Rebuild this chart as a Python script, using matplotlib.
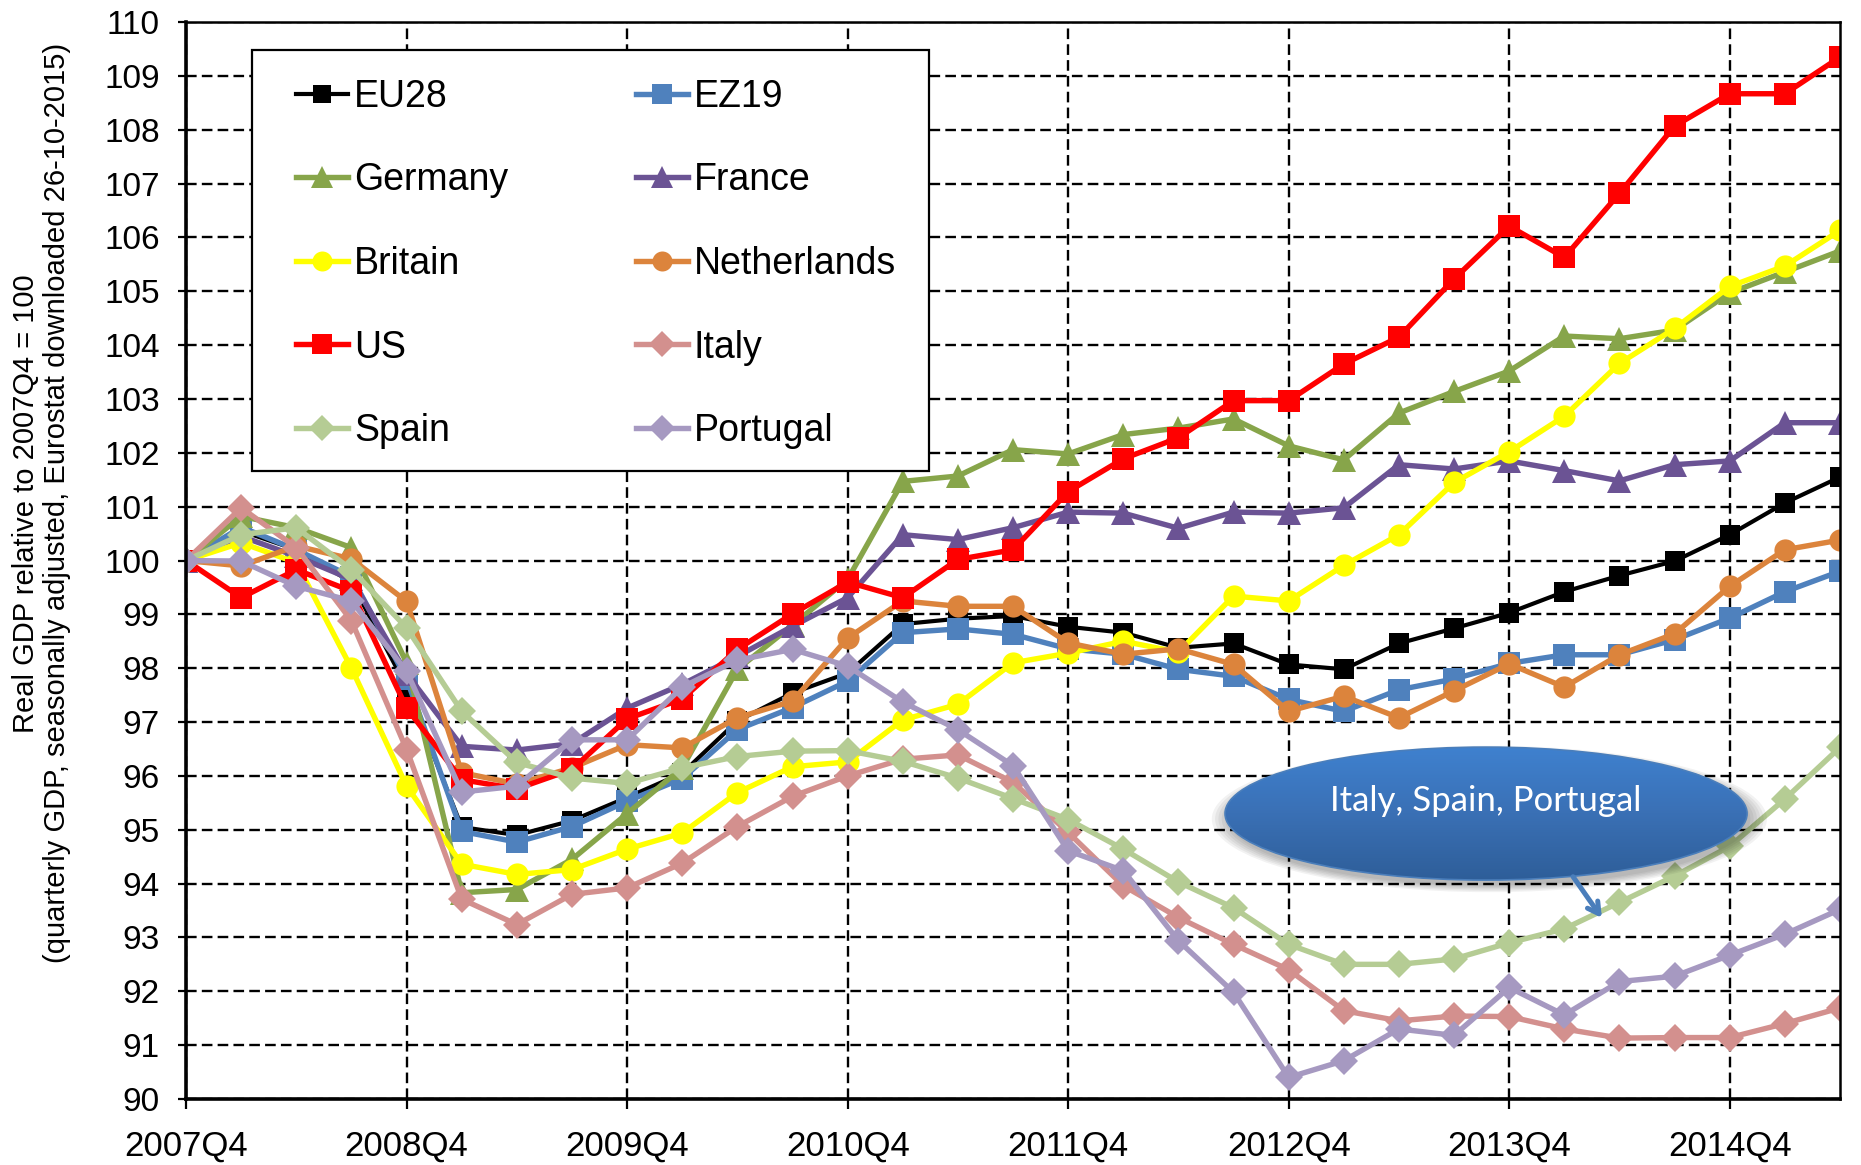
import numpy as np
import matplotlib
matplotlib.use("Agg")
import matplotlib.pyplot as plt
from matplotlib.patches import Ellipse, Rectangle
from matplotlib.colors import LinearSegmentedColormap

quarters = ["2007Q4", "2008Q1", "2008Q2", "2008Q3", "2008Q4", "2009Q1", "2009Q2", "2009Q3",
            "2009Q4", "2010Q1", "2010Q2", "2010Q3", "2010Q4", "2011Q1", "2011Q2", "2011Q3",
            "2011Q4", "2012Q1", "2012Q2", "2012Q3", "2012Q4", "2013Q1", "2013Q2", "2013Q3",
            "2013Q4", "2014Q1", "2014Q2", "2014Q3", "2014Q4", "2015Q1", "2015Q2"]

eu28 = [100, 100.55, 100.2, 99.6, 97.65, 95.05, 94.9, 95.17, 95.6, 96.05, 97.02, 97.54, 97.91,
        98.82, 98.92, 98.97, 98.77, 98.66, 98.38, 98.46, 98.07, 97.98, 98.46, 98.74, 99.03,
        99.42, 99.72, 99.99, 100.48, 101.07, 101.55]
ez19 = [100, 100.62, 100.2, 99.7, 97.8, 94.97, 94.77, 95.06, 95.53, 95.95, 96.86, 97.27, 97.76,
        98.66, 98.73, 98.63, 98.36, 98.26, 97.98, 97.85, 97.42, 97.2, 97.6, 97.8, 98.09,
        98.25, 98.25, 98.53, 98.93, 99.42, 99.8]
germany = [100, 100.82, 100.61, 100.24, 98.1, 93.83, 93.89, 94.45, 95.3, 96.15, 97.98, 98.8, 99.65,
           101.47, 101.57, 102.06, 101.98, 102.34, 102.46, 102.63, 102.13, 101.87, 102.74, 103.14,
           103.52, 104.17, 104.12, 104.28, 104.97, 105.36, 105.75]
france = [100, 100.45, 100.08, 99.65, 97.9, 96.55, 96.48, 96.6, 97.26, 97.7, 98.22, 98.78, 99.31,
          100.48, 100.39, 100.61, 100.9, 100.88, 100.6, 100.9, 100.88, 100.98, 101.78, 101.7,
          101.85, 101.67, 101.48, 101.78, 101.85, 102.56, 102.56]
britain = [100, 100.33, 99.96, 98.0, 95.81, 94.36, 94.17, 94.26, 94.64, 94.94, 95.69, 96.17, 96.26,
           97.04, 97.33, 98.1, 98.28, 98.5, 98.3, 99.34, 99.25, 99.91, 100.48, 101.45, 102.02,
           102.68, 103.66, 104.31, 105.09, 105.47, 106.13]
netherlands = [100, 99.9, 100.27, 100.03, 99.24, 96.06, 95.85, 96.15, 96.58, 96.52, 97.08, 97.39,
               98.56, 99.25, 99.15, 99.15, 98.47, 98.26, 98.36, 98.07, 97.2, 97.48, 97.08, 97.58,
               98.08, 97.65, 98.25, 98.64, 99.52, 100.2, 100.38]
us = [100, 99.31, 99.83, 99.43, 97.26, 95.93, 95.76, 96.12, 97.06, 97.43, 98.35, 99.01, 99.6,
      99.31, 100.02, 100.2, 101.28, 101.89, 102.28, 102.97, 102.97, 103.65, 104.15, 105.23,
      106.21, 105.63, 106.82, 108.07, 108.67, 108.67, 109.35]
italy = [100, 100.98, 100.24, 98.88, 96.49, 93.71, 93.24, 93.8, 93.92, 94.38, 95.06, 95.62, 96.0,
         96.31, 96.39, 95.88, 94.95, 93.96, 93.37, 92.87, 92.4, 91.64, 91.45, 91.54, 91.53,
         91.3, 91.13, 91.14, 91.14, 91.4, 91.69]
spain = [100, 100.48, 100.61, 99.83, 98.75, 97.2, 96.25, 95.96, 95.86, 96.15, 96.36, 96.46, 96.47,
         96.27, 95.96, 95.58, 95.19, 94.64, 94.03, 93.55, 92.87, 92.5, 92.5, 92.6, 92.9,
         93.16, 93.65, 94.14, 94.69, 95.57, 96.53]
portugal = [100, 99.99, 99.52, 99.25, 97.94, 95.7, 95.81, 96.67, 96.67, 97.65, 98.15, 98.35, 98.04,
            97.37, 96.86, 96.19, 94.61, 94.24, 92.94, 91.98, 90.4, 90.71, 91.3, 91.18, 92.07,
            91.56, 92.18, 92.28, 92.67, 93.06, 93.52]

series_names = ["EU28", "EZ19", "Germany", "France", "Britain", "Netherlands", "US", "Italy", "Spain", "Portugal"]
series_values = [eu28, ez19, germany, france, britain, netherlands, us, italy, spain, portugal]
colors = ["#000000", "#4F81BD", "#87A54A", "#6B5394", "#FFFF00", "#DC843C", "#FF0000", "#D3908E", "#B5CC94", "#A699C1"]
markers = ["s", "s", "^", "^", "o", "o", "s", "D", "D", "D"]
msizes = [15, 16, 17, 17, 16, 16, 16.5, 14.5, 14.5, 14.5]
lwidths = [3.0, 3.9, 3.9, 3.9, 3.9, 3.9, 3.9, 3.9, 3.9, 3.9]

annotation_text = "Italy, Spain, Portugal"

FONT = "Liberation Sans"
plt.rcParams["font.family"] = [FONT, "DejaVu Sans"]

fig = plt.figure(figsize=(18.61, 11.65), dpi=100)
ax = fig.add_axes([0.100, 0.0567, 0.8887, 0.9243])

x = np.arange(len(quarters))
handles = []
for name, vals, c, m, ms, lw in zip(series_names, series_values, colors, markers, msizes, lwidths):
    h, = ax.plot(x, vals, color=c, marker=m, markersize=ms, linewidth=lw,
                 markeredgecolor=c, markeredgewidth=0, label=name, zorder=5, solid_joinstyle="miter")
    handles.append(h)

ax.set_xlim(0, len(quarters) - 1)
ax.set_ylim(90, 110)
ax.set_yticks(np.arange(90, 111, 1))
ax.set_xticks(x[::4])
ax.set_xticklabels(quarters[::4])

ax.grid(True, color="black", linestyle=(0, (4.5, 2.2)), linewidth=1.7, zorder=1)
ax.set_axisbelow(True)

for side in ["left", "bottom"]:
    ax.spines[side].set_linewidth(2.6)
for side in ["top", "right"]:
    ax.spines[side].set_linewidth(1.8)
for s in ax.spines.values():
    s.set_zorder(30)

ax.tick_params(axis="y", direction="out", length=6, width=1.6, pad=13, labelsize=24)
ax.tick_params(axis="x", direction="out", length=7, width=1.6, pad=15, labelsize=25)

fig.text(0.0140, 0.568, "Real GDP relative to 2007Q4 = 100", rotation=90, ha="center", va="center", fontsize=21)
fig.text(0.0305, 0.568, "(quarterly GDP, seasonally adjusted, Eurostat downloaded 26-10-2015)",
         rotation=90, ha="center", va="center", fontsize=21)

# Legend frame drawn separately, legend entries placed inside it
frame = Rectangle((0.0397, 0.583), 0.449 - 0.0397, 0.974 - 0.583, transform=ax.transAxes,
                  facecolor="white", edgecolor="black", linewidth=1.6, zorder=35)
ax.add_patch(frame)
order = [0, 2, 4, 6, 8, 1, 3, 5, 7, 9]
leg = ax.legend([handles[i] for i in order], [series_names[i] for i in order], ncol=2,
                loc="upper left", bbox_to_anchor=(0.0663, 0.9475), borderaxespad=0,
                fontsize=27, frameon=False,
                handlelength=1.4, handletextpad=0.15, columnspacing=3.4, labelspacing=1.27,
                borderpad=0, markerscale=0.9)
leg.set_zorder(40)

# Annotation ellipse with gradient
cx, cy, w, h = 23.58, 95.30, 9.47, 2.47
for k in range(6):
    sh = Ellipse((cx + 0.06, cy - 0.10), w + 0.12 * k, h + 0.05 * k, facecolor="black",
                 edgecolor="none", alpha=0.05, zorder=18)
    ax.add_patch(sh)
ell = Ellipse((cx, cy), w, h, facecolor="none", edgecolor="#4A7EBB", linewidth=1.2, zorder=21)
ax.add_patch(ell)
cmap = LinearSegmentedColormap.from_list("grad", ["#3F81CF", "#3A70B5", "#2E5E99"])
grad = np.linspace(0, 1, 256).reshape(-1, 1)
im = ax.imshow(grad, extent=[cx - w / 2, cx + w / 2, cy - h / 2, cy + h / 2], origin="upper",
               cmap=cmap, aspect="auto", zorder=20, interpolation="bilinear")
im.set_clip_path(ell)
ax.set_xlim(0, len(quarters) - 1)
ax.set_ylim(90, 110)
ax.text(cx, 95.53, annotation_text, ha="center", va="center", color="white", fontsize=25,
        family=["Lato", "DejaVu Sans"], zorder=22)
ax.annotate("", xy=(25.71, 93.32), xytext=(25.13, 94.17),
            arrowprops=dict(arrowstyle="->,head_length=0.8,head_width=0.45", color="#4A7EBB", lw=3.6),
            zorder=22)

fig.savefig("out.png", dpi=100, facecolor="white")
